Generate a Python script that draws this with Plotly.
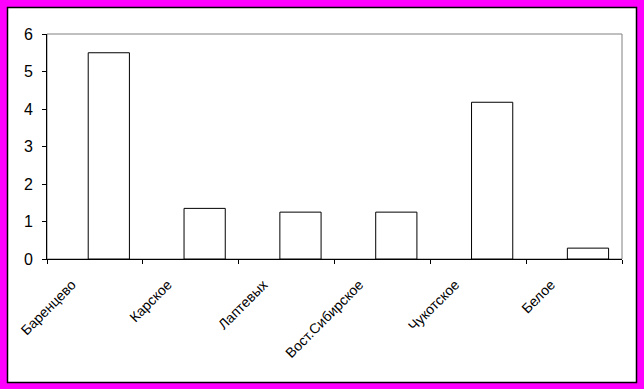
import plotly.graph_objects as go

categories = ["Баренцево", "Карское", "Лаптевых", "Вост.Сибирское", "Чукотское", "Белое"]
values = [5.5, 1.35, 1.25, 1.25, 4.18, 0.29]
y_ticks = [0, 1, 2, 3, 4, 5, 6]

xpos = list(range(len(categories)))

fig = go.Figure()
fig.add_trace(go.Bar(
    x=xpos, y=values,
    width=0.43, offset=-0.07,
    marker=dict(color="white", line=dict(color="black", width=1)),
    showlegend=False,
))

font = "Liberation Sans, Arial, sans-serif"
W, H = 644, 389
L, R, T, B = 47, 22, 34, 130
pw, ph = W - L - R, H - T - B

def px2x(p):
    return (p - L) / pw

def px2y(p):
    return (H - B - p) / ph

fig.update_layout(
    width=W, height=H,
    margin=dict(l=L, r=R, t=T, b=B, pad=0),
    paper_bgcolor="#ff00ff",
    plot_bgcolor="white",
    font=dict(family=font, color="black"),
    xaxis=dict(
        range=[-0.5, 5.5],
        tickmode="array",
        tickvals=[v - 0.24 for v in xpos],
        ticktext=categories,
        tickangle=-45,
        ticks="",
        ticklabelstandoff=11,
        tickfont=dict(size=14, family=font),
        showline=True, linecolor="black", linewidth=1,
        showgrid=False, zeroline=False,
        minor=dict(tickvals=[v - 0.5 for v in xpos] + [5.5], ticks="outside",
                   ticklen=4, tickcolor="black", tickwidth=1, showgrid=False),
    ),
    yaxis=dict(
        range=[0, 6],
        tickmode="array", tickvals=y_ticks,
        ticks="outside", ticklen=4, tickcolor="black",
        ticklabelstandoff=6,
        tickfont=dict(size=16, family=font),
        showline=True, linecolor="black", linewidth=1,
        showgrid=False, zeroline=False,
    ),
    shapes=[
        dict(type="rect", xref="paper", yref="paper",
             x0=px2x(7.5), x1=px2x(636.5), y0=px2y(382.5), y1=px2y(7.5),
             fillcolor="white", line=dict(color="black", width=1.5), layer="below"),
        dict(type="rect", xref="paper", yref="paper",
             x0=0, x1=1, y0=0, y1=1,
             fillcolor="rgba(0,0,0,0)", line=dict(color="#808080", width=1), layer="below"),
    ],
)

fig.write_html("out.html",
               config={"displayModeBar": False},
               post_script="document.body.style.margin='0';document.body.style.padding='0';")
